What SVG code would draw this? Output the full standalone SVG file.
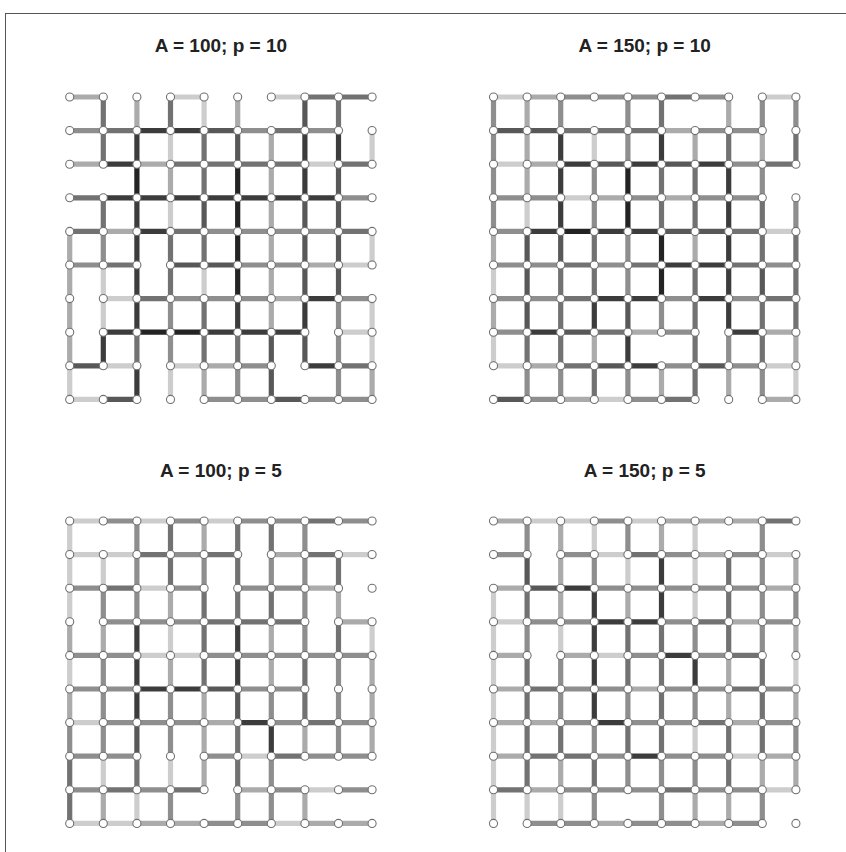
<svg xmlns="http://www.w3.org/2000/svg" width="846" height="852" viewBox="0 0 846 852">
<style>
.e path{fill:none;stroke-width:.155;stroke-linecap:butt}
.l1{stroke:#cdcdcd}.l2{stroke:#ababab}.l3{stroke:#8e8e8e}.l4{stroke:#727272}.l5{stroke:#585858}.l6{stroke:#3c3c3c}.l7{stroke:#232323}
.n circle{fill:#fff;stroke:#707070;stroke-width:.032}
.t{font-family:"Liberation Sans",Arial,sans-serif;font-size:19px;font-weight:bold;fill:#222;text-anchor:middle}
</style>
<rect x="0" y="0" width="846" height="852" fill="#fff"/>
<rect x="5.5" y="13.5" width="850" height="850" fill="none" stroke="#555" stroke-width="1"/>
<text class="t" x="220.9" y="52">A = 100; p = 10</text>
<text class="t" x="644.7" y="52">A = 150; p = 10</text>
<text class="t" x="220.9" y="476.5">A = 100; p = 5</text>
<text class="t" x="644.7" y="476.5">A = 150; p = 5</text>

<g id="panel1" transform="translate(69.7 97) scale(33.6)">
<g id="panel1-connectors" class="e">
<path class="l1" d="M3 0h1M6 0h1M7 2h1M8 5h1M1 6h1M8 7h1M1 8h1M3 8h1M0 9h1M4 0v1M3 1v1M9 1v1M3 3v1M9 4v1M1 5v1M4 5v1M1 6v1M9 6v1M9 7v1M0 8v1M3 8v1"/>
<path class="l2" d="M0 0h1M0 2h1M2 2h1M1 4h1M7 5h1M6 6h1M4 8h1M2 0v1M5 0v1M6 1v1M3 2v1M6 2v1M6 3v1M0 4v1M6 4v1M0 5v1M6 5v1M0 6v1M6 6v1M0 7v1M4 8v1M9 8v1"/>
<path class="l3" d="M0 1h1M5 1h1M7 1h1M8 3h1M4 4h4M0 5h1M5 5h2M3 6h3M8 6h1M5 8h1M4 9h2M7 9h2M1 4v1M3 6v1M8 6v1M3 7v1M8 7v1M5 8v1M8 8v1"/>
<path class="l4" d="M7 0h2M1 1h1M6 1h1M3 2h4M8 2h1M0 3h1M0 4h1M3 4h1M8 4h1M1 5h1M2 6h1M8 8h1M1 0v1M3 0v1M8 0v1M1 1v1M4 1v1M4 2v1M1 3v1M3 4v1M4 4v1M3 5v1M4 6v1M2 7v1M4 7v1M5 7v1"/>
<path class="l5" d="M4 1h1M3 5h2M0 8h1M1 9h1M6 9h1M7 0v1M5 1v1M8 2v1M4 3v1M7 3v1M8 3v1M7 4v1M8 4v1M7 5v1M8 5v1M6 7v1M7 7v1M6 8v1"/>
<path class="l6" d="M2 1h2M1 2h1M1 3h7M2 4h1M7 6h1M1 7h1M4 7h3M7 8h1M2 1v1M7 1v1M8 1v1M7 2v1M2 3v1M2 4v1M2 5v1M2 6v1M5 6v1M7 6v1M1 7v1M2 8v1"/>
<path class="l7" d="M2 7h2M2 2v1M5 2v4"/>
</g>
<g id="panel1-nodes" class="n">
<circle id="a00" cx="0" cy="0" r=".12"/><circle id="a01" cx="1" cy="0" r=".12"/><circle id="a02" cx="2" cy="0" r=".12"/><circle id="a03" cx="3" cy="0" r=".12"/><circle id="a04" cx="4" cy="0" r=".12"/><circle id="a05" cx="5" cy="0" r=".12"/><circle id="a06" cx="6" cy="0" r=".12"/><circle id="a07" cx="7" cy="0" r=".12"/><circle id="a08" cx="8" cy="0" r=".12"/><circle id="a09" cx="9" cy="0" r=".12"/>
<circle id="a10" cx="0" cy="1" r=".12"/><circle id="a11" cx="1" cy="1" r=".12"/><circle id="a12" cx="2" cy="1" r=".12"/><circle id="a13" cx="3" cy="1" r=".12"/><circle id="a14" cx="4" cy="1" r=".12"/><circle id="a15" cx="5" cy="1" r=".12"/><circle id="a16" cx="6" cy="1" r=".12"/><circle id="a17" cx="7" cy="1" r=".12"/><circle id="a18" cx="8" cy="1" r=".12"/><circle id="a19" cx="9" cy="1" r=".12"/>
<circle id="a20" cx="0" cy="2" r=".12"/><circle id="a21" cx="1" cy="2" r=".12"/><circle id="a22" cx="2" cy="2" r=".12"/><circle id="a23" cx="3" cy="2" r=".12"/><circle id="a24" cx="4" cy="2" r=".12"/><circle id="a25" cx="5" cy="2" r=".12"/><circle id="a26" cx="6" cy="2" r=".12"/><circle id="a27" cx="7" cy="2" r=".12"/><circle id="a28" cx="8" cy="2" r=".12"/><circle id="a29" cx="9" cy="2" r=".12"/>
<circle id="a30" cx="0" cy="3" r=".12"/><circle id="a31" cx="1" cy="3" r=".12"/><circle id="a32" cx="2" cy="3" r=".12"/><circle id="a33" cx="3" cy="3" r=".12"/><circle id="a34" cx="4" cy="3" r=".12"/><circle id="a35" cx="5" cy="3" r=".12"/><circle id="a36" cx="6" cy="3" r=".12"/><circle id="a37" cx="7" cy="3" r=".12"/><circle id="a38" cx="8" cy="3" r=".12"/><circle id="a39" cx="9" cy="3" r=".12"/>
<circle id="a40" cx="0" cy="4" r=".12"/><circle id="a41" cx="1" cy="4" r=".12"/><circle id="a42" cx="2" cy="4" r=".12"/><circle id="a43" cx="3" cy="4" r=".12"/><circle id="a44" cx="4" cy="4" r=".12"/><circle id="a45" cx="5" cy="4" r=".12"/><circle id="a46" cx="6" cy="4" r=".12"/><circle id="a47" cx="7" cy="4" r=".12"/><circle id="a48" cx="8" cy="4" r=".12"/><circle id="a49" cx="9" cy="4" r=".12"/>
<circle id="a50" cx="0" cy="5" r=".12"/><circle id="a51" cx="1" cy="5" r=".12"/><circle id="a52" cx="2" cy="5" r=".12"/><circle id="a53" cx="3" cy="5" r=".12"/><circle id="a54" cx="4" cy="5" r=".12"/><circle id="a55" cx="5" cy="5" r=".12"/><circle id="a56" cx="6" cy="5" r=".12"/><circle id="a57" cx="7" cy="5" r=".12"/><circle id="a58" cx="8" cy="5" r=".12"/><circle id="a59" cx="9" cy="5" r=".12"/>
<circle id="a60" cx="0" cy="6" r=".12"/><circle id="a61" cx="1" cy="6" r=".12"/><circle id="a62" cx="2" cy="6" r=".12"/><circle id="a63" cx="3" cy="6" r=".12"/><circle id="a64" cx="4" cy="6" r=".12"/><circle id="a65" cx="5" cy="6" r=".12"/><circle id="a66" cx="6" cy="6" r=".12"/><circle id="a67" cx="7" cy="6" r=".12"/><circle id="a68" cx="8" cy="6" r=".12"/><circle id="a69" cx="9" cy="6" r=".12"/>
<circle id="a70" cx="0" cy="7" r=".12"/><circle id="a71" cx="1" cy="7" r=".12"/><circle id="a72" cx="2" cy="7" r=".12"/><circle id="a73" cx="3" cy="7" r=".12"/><circle id="a74" cx="4" cy="7" r=".12"/><circle id="a75" cx="5" cy="7" r=".12"/><circle id="a76" cx="6" cy="7" r=".12"/><circle id="a77" cx="7" cy="7" r=".12"/><circle id="a78" cx="8" cy="7" r=".12"/><circle id="a79" cx="9" cy="7" r=".12"/>
<circle id="a80" cx="0" cy="8" r=".12"/><circle id="a81" cx="1" cy="8" r=".12"/><circle id="a82" cx="2" cy="8" r=".12"/><circle id="a83" cx="3" cy="8" r=".12"/><circle id="a84" cx="4" cy="8" r=".12"/><circle id="a85" cx="5" cy="8" r=".12"/><circle id="a86" cx="6" cy="8" r=".12"/><circle id="a87" cx="7" cy="8" r=".12"/><circle id="a88" cx="8" cy="8" r=".12"/><circle id="a89" cx="9" cy="8" r=".12"/>
<circle id="a90" cx="0" cy="9" r=".12"/><circle id="a91" cx="1" cy="9" r=".12"/><circle id="a92" cx="2" cy="9" r=".12"/><circle id="a93" cx="3" cy="9" r=".12"/><circle id="a94" cx="4" cy="9" r=".12"/><circle id="a95" cx="5" cy="9" r=".12"/><circle id="a96" cx="6" cy="9" r=".12"/><circle id="a97" cx="7" cy="9" r=".12"/><circle id="a98" cx="8" cy="9" r=".12"/><circle id="a99" cx="9" cy="9" r=".12"/>
</g>
</g>

<g id="panel2" transform="translate(493.5 97) scale(33.6)">
<g id="panel2-connectors" class="e">
<path class="l1" d="M0 0h1M8 0h1M0 2h1M2 3h1M8 4h1M0 8h1M8 8h1M3 9h1M3 1v1M1 3v1M0 5v1M0 7v1M9 8v1"/>
<path class="l2" d="M1 0h1M5 1h1M1 2h1M3 3h1M5 3h1M4 7h1M8 7h1M1 8h1M2 9h1M8 9h1M1 0v1M7 0v1M1 1v1M6 1v1M8 1v1M1 2v1M0 4v1M6 4v1M0 6v1M3 7v1M9 7v1M5 8v1M7 8v1"/>
<path class="l3" d="M2 0h3M6 0h1M6 1h2M7 2h1M0 3h2M4 3h1M6 3h2M0 4h1M0 5h2M3 5h1M8 5h1M0 6h2M5 6h1M7 6h1M0 7h1M5 7h1M5 8h1M7 8h1M1 9h1M4 9h1M0 0v4M2 0v1M4 0v1M8 0v1M9 0v1M4 1v1M3 2v2M8 2v1M9 3v1M4 4v2M5 6v1M7 7v1M1 8v1M2 8v1M4 8v1M8 8v1"/>
<path class="l4" d="M5 0h1M2 1h3M8 2h1M7 4h1M2 5h1M4 5h1M7 5h1M2 6h1M8 6h1M3 7h1M2 8h1M5 9h1M5 0v1M7 1v1M9 1v1M5 2v2M6 2v2M8 3v2M3 4v2M9 4v3M2 5v3M6 5v4M8 6v2M1 7v1M3 8v1"/>
<path class="l5" d="M0 1h2M3 2h1M5 2h1M5 4h2M2 7h1M3 8h1M6 8h1M0 9h1M1 4v3M2 4v1M8 5v1M4 6v1"/>
<path class="l6" d="M2 2h1M4 2h1M6 2h1M1 4h1M3 4h2M5 5h2M3 6h2M6 6h1M1 7h1M7 7h1M4 8h1M2 1v3M5 1v1M7 2v5M3 6v1M4 7v1"/>
<path class="l7" d="M2 4h1M4 2v2M5 4v2"/>
</g>
<g id="panel2-nodes" class="n">
<circle id="b00" cx="0" cy="0" r=".12"/><circle id="b01" cx="1" cy="0" r=".12"/><circle id="b02" cx="2" cy="0" r=".12"/><circle id="b03" cx="3" cy="0" r=".12"/><circle id="b04" cx="4" cy="0" r=".12"/><circle id="b05" cx="5" cy="0" r=".12"/><circle id="b06" cx="6" cy="0" r=".12"/><circle id="b07" cx="7" cy="0" r=".12"/><circle id="b08" cx="8" cy="0" r=".12"/><circle id="b09" cx="9" cy="0" r=".12"/>
<circle id="b10" cx="0" cy="1" r=".12"/><circle id="b11" cx="1" cy="1" r=".12"/><circle id="b12" cx="2" cy="1" r=".12"/><circle id="b13" cx="3" cy="1" r=".12"/><circle id="b14" cx="4" cy="1" r=".12"/><circle id="b15" cx="5" cy="1" r=".12"/><circle id="b16" cx="6" cy="1" r=".12"/><circle id="b17" cx="7" cy="1" r=".12"/><circle id="b18" cx="8" cy="1" r=".12"/><circle id="b19" cx="9" cy="1" r=".12"/>
<circle id="b20" cx="0" cy="2" r=".12"/><circle id="b21" cx="1" cy="2" r=".12"/><circle id="b22" cx="2" cy="2" r=".12"/><circle id="b23" cx="3" cy="2" r=".12"/><circle id="b24" cx="4" cy="2" r=".12"/><circle id="b25" cx="5" cy="2" r=".12"/><circle id="b26" cx="6" cy="2" r=".12"/><circle id="b27" cx="7" cy="2" r=".12"/><circle id="b28" cx="8" cy="2" r=".12"/><circle id="b29" cx="9" cy="2" r=".12"/>
<circle id="b30" cx="0" cy="3" r=".12"/><circle id="b31" cx="1" cy="3" r=".12"/><circle id="b32" cx="2" cy="3" r=".12"/><circle id="b33" cx="3" cy="3" r=".12"/><circle id="b34" cx="4" cy="3" r=".12"/><circle id="b35" cx="5" cy="3" r=".12"/><circle id="b36" cx="6" cy="3" r=".12"/><circle id="b37" cx="7" cy="3" r=".12"/><circle id="b38" cx="8" cy="3" r=".12"/><circle id="b39" cx="9" cy="3" r=".12"/>
<circle id="b40" cx="0" cy="4" r=".12"/><circle id="b41" cx="1" cy="4" r=".12"/><circle id="b42" cx="2" cy="4" r=".12"/><circle id="b43" cx="3" cy="4" r=".12"/><circle id="b44" cx="4" cy="4" r=".12"/><circle id="b45" cx="5" cy="4" r=".12"/><circle id="b46" cx="6" cy="4" r=".12"/><circle id="b47" cx="7" cy="4" r=".12"/><circle id="b48" cx="8" cy="4" r=".12"/><circle id="b49" cx="9" cy="4" r=".12"/>
<circle id="b50" cx="0" cy="5" r=".12"/><circle id="b51" cx="1" cy="5" r=".12"/><circle id="b52" cx="2" cy="5" r=".12"/><circle id="b53" cx="3" cy="5" r=".12"/><circle id="b54" cx="4" cy="5" r=".12"/><circle id="b55" cx="5" cy="5" r=".12"/><circle id="b56" cx="6" cy="5" r=".12"/><circle id="b57" cx="7" cy="5" r=".12"/><circle id="b58" cx="8" cy="5" r=".12"/><circle id="b59" cx="9" cy="5" r=".12"/>
<circle id="b60" cx="0" cy="6" r=".12"/><circle id="b61" cx="1" cy="6" r=".12"/><circle id="b62" cx="2" cy="6" r=".12"/><circle id="b63" cx="3" cy="6" r=".12"/><circle id="b64" cx="4" cy="6" r=".12"/><circle id="b65" cx="5" cy="6" r=".12"/><circle id="b66" cx="6" cy="6" r=".12"/><circle id="b67" cx="7" cy="6" r=".12"/><circle id="b68" cx="8" cy="6" r=".12"/><circle id="b69" cx="9" cy="6" r=".12"/>
<circle id="b70" cx="0" cy="7" r=".12"/><circle id="b71" cx="1" cy="7" r=".12"/><circle id="b72" cx="2" cy="7" r=".12"/><circle id="b73" cx="3" cy="7" r=".12"/><circle id="b74" cx="4" cy="7" r=".12"/><circle id="b75" cx="5" cy="7" r=".12"/><circle id="b76" cx="6" cy="7" r=".12"/><circle id="b77" cx="7" cy="7" r=".12"/><circle id="b78" cx="8" cy="7" r=".12"/><circle id="b79" cx="9" cy="7" r=".12"/>
<circle id="b80" cx="0" cy="8" r=".12"/><circle id="b81" cx="1" cy="8" r=".12"/><circle id="b82" cx="2" cy="8" r=".12"/><circle id="b83" cx="3" cy="8" r=".12"/><circle id="b84" cx="4" cy="8" r=".12"/><circle id="b85" cx="5" cy="8" r=".12"/><circle id="b86" cx="6" cy="8" r=".12"/><circle id="b87" cx="7" cy="8" r=".12"/><circle id="b88" cx="8" cy="8" r=".12"/><circle id="b89" cx="9" cy="8" r=".12"/>
<circle id="b90" cx="0" cy="9" r=".12"/><circle id="b91" cx="1" cy="9" r=".12"/><circle id="b92" cx="2" cy="9" r=".12"/><circle id="b93" cx="3" cy="9" r=".12"/><circle id="b94" cx="4" cy="9" r=".12"/><circle id="b95" cx="5" cy="9" r=".12"/><circle id="b96" cx="6" cy="9" r=".12"/><circle id="b97" cx="7" cy="9" r=".12"/><circle id="b98" cx="8" cy="9" r=".12"/><circle id="b99" cx="9" cy="9" r=".12"/>
</g>
</g>

<g id="panel3" transform="translate(69.7 521) scale(33.6)">
<g id="panel3-connectors" class="e">
<path class="l1" d="M0 0h1M2 0h1M4 0h1M0 1h2M8 1h1M2 2h1M2 4h2M0 6h1M5 7h1M7 8h1M0 9h2M6 9h1M0 0v3M1 1v1M3 3v1M9 3v1M0 4v1M1 7v1M3 7v1M2 8v1"/>
<path class="l2" d="M6 1h1M7 2h1M8 3h1M4 6h1M5 8h1M2 9h2M7 9h2M4 0v1M3 2v1M8 2v1M0 3v1M1 3v1M6 3v2M3 4v1M9 4v3M0 5v1M4 5v3M7 6v1M1 8v1M7 8v1"/>
<path class="l3" d="M1 0h1M3 0h1M5 0h2M8 0h1M3 1h1M0 2h1M3 2h1M5 2h2M1 3h3M0 4h2M4 4h5M0 5h2M5 5h2M1 6h3M6 6h1M8 6h1M0 7h2M4 7h1M7 7h2M0 8h1M2 8h1M6 8h1M8 8h1M4 9h2M2 0v3M7 0v4M4 1v1M6 1v1M1 2v1M1 4v3M8 4v3M3 5v2M6 5v1M0 6v1M6 7v2M3 8v1M5 8v1"/>
<path class="l4" d="M7 0h1M2 1h1M4 1h1M7 1h1M1 2h1M4 3h3M7 6h1M6 7h1M1 8h1M3 8h1M3 0v2M5 0v3M6 0v1M8 1v1M4 2v3M6 2v1M8 3v1M7 4v2M5 6v2M0 7v2M2 7v1"/>
<path class="l5" d="M4 5h1M5 5v1M2 6v1"/>
<path class="l6" d="M2 5h2M5 6h1M2 3v3M5 3v2M6 6v1"/>
</g>
<g id="panel3-nodes" class="n">
<circle id="c00" cx="0" cy="0" r=".12"/><circle id="c01" cx="1" cy="0" r=".12"/><circle id="c02" cx="2" cy="0" r=".12"/><circle id="c03" cx="3" cy="0" r=".12"/><circle id="c04" cx="4" cy="0" r=".12"/><circle id="c05" cx="5" cy="0" r=".12"/><circle id="c06" cx="6" cy="0" r=".12"/><circle id="c07" cx="7" cy="0" r=".12"/><circle id="c08" cx="8" cy="0" r=".12"/><circle id="c09" cx="9" cy="0" r=".12"/>
<circle id="c10" cx="0" cy="1" r=".12"/><circle id="c11" cx="1" cy="1" r=".12"/><circle id="c12" cx="2" cy="1" r=".12"/><circle id="c13" cx="3" cy="1" r=".12"/><circle id="c14" cx="4" cy="1" r=".12"/><circle id="c15" cx="5" cy="1" r=".12"/><circle id="c16" cx="6" cy="1" r=".12"/><circle id="c17" cx="7" cy="1" r=".12"/><circle id="c18" cx="8" cy="1" r=".12"/><circle id="c19" cx="9" cy="1" r=".12"/>
<circle id="c20" cx="0" cy="2" r=".12"/><circle id="c21" cx="1" cy="2" r=".12"/><circle id="c22" cx="2" cy="2" r=".12"/><circle id="c23" cx="3" cy="2" r=".12"/><circle id="c24" cx="4" cy="2" r=".12"/><circle id="c25" cx="5" cy="2" r=".12"/><circle id="c26" cx="6" cy="2" r=".12"/><circle id="c27" cx="7" cy="2" r=".12"/><circle id="c28" cx="8" cy="2" r=".12"/><circle id="c29" cx="9" cy="2" r=".12"/>
<circle id="c30" cx="0" cy="3" r=".12"/><circle id="c31" cx="1" cy="3" r=".12"/><circle id="c32" cx="2" cy="3" r=".12"/><circle id="c33" cx="3" cy="3" r=".12"/><circle id="c34" cx="4" cy="3" r=".12"/><circle id="c35" cx="5" cy="3" r=".12"/><circle id="c36" cx="6" cy="3" r=".12"/><circle id="c37" cx="7" cy="3" r=".12"/><circle id="c38" cx="8" cy="3" r=".12"/><circle id="c39" cx="9" cy="3" r=".12"/>
<circle id="c40" cx="0" cy="4" r=".12"/><circle id="c41" cx="1" cy="4" r=".12"/><circle id="c42" cx="2" cy="4" r=".12"/><circle id="c43" cx="3" cy="4" r=".12"/><circle id="c44" cx="4" cy="4" r=".12"/><circle id="c45" cx="5" cy="4" r=".12"/><circle id="c46" cx="6" cy="4" r=".12"/><circle id="c47" cx="7" cy="4" r=".12"/><circle id="c48" cx="8" cy="4" r=".12"/><circle id="c49" cx="9" cy="4" r=".12"/>
<circle id="c50" cx="0" cy="5" r=".12"/><circle id="c51" cx="1" cy="5" r=".12"/><circle id="c52" cx="2" cy="5" r=".12"/><circle id="c53" cx="3" cy="5" r=".12"/><circle id="c54" cx="4" cy="5" r=".12"/><circle id="c55" cx="5" cy="5" r=".12"/><circle id="c56" cx="6" cy="5" r=".12"/><circle id="c57" cx="7" cy="5" r=".12"/><circle id="c58" cx="8" cy="5" r=".12"/><circle id="c59" cx="9" cy="5" r=".12"/>
<circle id="c60" cx="0" cy="6" r=".12"/><circle id="c61" cx="1" cy="6" r=".12"/><circle id="c62" cx="2" cy="6" r=".12"/><circle id="c63" cx="3" cy="6" r=".12"/><circle id="c64" cx="4" cy="6" r=".12"/><circle id="c65" cx="5" cy="6" r=".12"/><circle id="c66" cx="6" cy="6" r=".12"/><circle id="c67" cx="7" cy="6" r=".12"/><circle id="c68" cx="8" cy="6" r=".12"/><circle id="c69" cx="9" cy="6" r=".12"/>
<circle id="c70" cx="0" cy="7" r=".12"/><circle id="c71" cx="1" cy="7" r=".12"/><circle id="c72" cx="2" cy="7" r=".12"/><circle id="c73" cx="3" cy="7" r=".12"/><circle id="c74" cx="4" cy="7" r=".12"/><circle id="c75" cx="5" cy="7" r=".12"/><circle id="c76" cx="6" cy="7" r=".12"/><circle id="c77" cx="7" cy="7" r=".12"/><circle id="c78" cx="8" cy="7" r=".12"/><circle id="c79" cx="9" cy="7" r=".12"/>
<circle id="c80" cx="0" cy="8" r=".12"/><circle id="c81" cx="1" cy="8" r=".12"/><circle id="c82" cx="2" cy="8" r=".12"/><circle id="c83" cx="3" cy="8" r=".12"/><circle id="c84" cx="4" cy="8" r=".12"/><circle id="c85" cx="5" cy="8" r=".12"/><circle id="c86" cx="6" cy="8" r=".12"/><circle id="c87" cx="7" cy="8" r=".12"/><circle id="c88" cx="8" cy="8" r=".12"/><circle id="c89" cx="9" cy="8" r=".12"/>
<circle id="c90" cx="0" cy="9" r=".12"/><circle id="c91" cx="1" cy="9" r=".12"/><circle id="c92" cx="2" cy="9" r=".12"/><circle id="c93" cx="3" cy="9" r=".12"/><circle id="c94" cx="4" cy="9" r=".12"/><circle id="c95" cx="5" cy="9" r=".12"/><circle id="c96" cx="6" cy="9" r=".12"/><circle id="c97" cx="7" cy="9" r=".12"/><circle id="c98" cx="8" cy="9" r=".12"/><circle id="c99" cx="9" cy="9" r=".12"/>
</g>
</g>

<g id="panel4" transform="translate(493.5 521) scale(33.6)">
<g id="panel4-connectors" class="e">
<path class="l1" d="M1 0h2M4 0h1M3 1h1M8 1h1M0 3h1M3 4h1M7 7h1M8 8h1M3 0v1M6 0v3M4 1v1M0 2v7M2 3v1M9 4v1M6 6v1M1 8v1M2 8v1"/>
<path class="l2" d="M0 0h1M5 0h3M6 1h1M0 2h1M8 2h1M7 3h1M0 4h1M2 4h1M0 5h1M4 5h1M0 6h2M7 6h1M0 7h1M8 7h1M1 8h1M3 9h1M6 9h1M2 0v3M5 0v1M9 1v1M4 2v1M9 3v1M7 4v2M9 5v1M2 7v1M8 7v1M9 7v1M6 8v1M7 8v1"/>
<path class="l3" d="M3 0h1M0 1h1M2 1h1M5 1h1M7 1h1M3 2h5M1 3h2M5 3h1M8 3h1M4 4h1M6 4h1M2 5h2M5 5h2M8 5h1M2 6h1M4 6h2M8 6h1M3 7h1M5 7h2M2 8h3M6 8h2M1 9h2M4 9h2M7 9h1M1 0v1M4 0v1M8 0v4M3 1v1M9 2v1M1 3v1M6 3v1M2 4v2M4 5v1M6 5v1M3 6v1M9 6v1M4 7v1M5 7v1M6 7v1M3 8v1M5 8v1M8 8v1"/>
<path class="l4" d="M8 0h1M4 1h1M6 3h1M7 4h1M1 5h1M7 5h1M6 6h1M1 7h2M0 8h1M5 8h1M7 1v3M1 2v1M4 3v2M5 3v4M1 4v4M8 4v3M2 6v1M4 6v1M7 6v2M3 7v1"/>
<path class="l5" d="M1 2h1M1 1v1"/>
<path class="l6" d="M2 2h1M3 3h2M5 4h1M3 6h1M4 7h1M5 1v2M3 2v4M6 4v1"/>
</g>
<g id="panel4-nodes" class="n">
<circle id="d00" cx="0" cy="0" r=".12"/><circle id="d01" cx="1" cy="0" r=".12"/><circle id="d02" cx="2" cy="0" r=".12"/><circle id="d03" cx="3" cy="0" r=".12"/><circle id="d04" cx="4" cy="0" r=".12"/><circle id="d05" cx="5" cy="0" r=".12"/><circle id="d06" cx="6" cy="0" r=".12"/><circle id="d07" cx="7" cy="0" r=".12"/><circle id="d08" cx="8" cy="0" r=".12"/><circle id="d09" cx="9" cy="0" r=".12"/>
<circle id="d10" cx="0" cy="1" r=".12"/><circle id="d11" cx="1" cy="1" r=".12"/><circle id="d12" cx="2" cy="1" r=".12"/><circle id="d13" cx="3" cy="1" r=".12"/><circle id="d14" cx="4" cy="1" r=".12"/><circle id="d15" cx="5" cy="1" r=".12"/><circle id="d16" cx="6" cy="1" r=".12"/><circle id="d17" cx="7" cy="1" r=".12"/><circle id="d18" cx="8" cy="1" r=".12"/><circle id="d19" cx="9" cy="1" r=".12"/>
<circle id="d20" cx="0" cy="2" r=".12"/><circle id="d21" cx="1" cy="2" r=".12"/><circle id="d22" cx="2" cy="2" r=".12"/><circle id="d23" cx="3" cy="2" r=".12"/><circle id="d24" cx="4" cy="2" r=".12"/><circle id="d25" cx="5" cy="2" r=".12"/><circle id="d26" cx="6" cy="2" r=".12"/><circle id="d27" cx="7" cy="2" r=".12"/><circle id="d28" cx="8" cy="2" r=".12"/><circle id="d29" cx="9" cy="2" r=".12"/>
<circle id="d30" cx="0" cy="3" r=".12"/><circle id="d31" cx="1" cy="3" r=".12"/><circle id="d32" cx="2" cy="3" r=".12"/><circle id="d33" cx="3" cy="3" r=".12"/><circle id="d34" cx="4" cy="3" r=".12"/><circle id="d35" cx="5" cy="3" r=".12"/><circle id="d36" cx="6" cy="3" r=".12"/><circle id="d37" cx="7" cy="3" r=".12"/><circle id="d38" cx="8" cy="3" r=".12"/><circle id="d39" cx="9" cy="3" r=".12"/>
<circle id="d40" cx="0" cy="4" r=".12"/><circle id="d41" cx="1" cy="4" r=".12"/><circle id="d42" cx="2" cy="4" r=".12"/><circle id="d43" cx="3" cy="4" r=".12"/><circle id="d44" cx="4" cy="4" r=".12"/><circle id="d45" cx="5" cy="4" r=".12"/><circle id="d46" cx="6" cy="4" r=".12"/><circle id="d47" cx="7" cy="4" r=".12"/><circle id="d48" cx="8" cy="4" r=".12"/><circle id="d49" cx="9" cy="4" r=".12"/>
<circle id="d50" cx="0" cy="5" r=".12"/><circle id="d51" cx="1" cy="5" r=".12"/><circle id="d52" cx="2" cy="5" r=".12"/><circle id="d53" cx="3" cy="5" r=".12"/><circle id="d54" cx="4" cy="5" r=".12"/><circle id="d55" cx="5" cy="5" r=".12"/><circle id="d56" cx="6" cy="5" r=".12"/><circle id="d57" cx="7" cy="5" r=".12"/><circle id="d58" cx="8" cy="5" r=".12"/><circle id="d59" cx="9" cy="5" r=".12"/>
<circle id="d60" cx="0" cy="6" r=".12"/><circle id="d61" cx="1" cy="6" r=".12"/><circle id="d62" cx="2" cy="6" r=".12"/><circle id="d63" cx="3" cy="6" r=".12"/><circle id="d64" cx="4" cy="6" r=".12"/><circle id="d65" cx="5" cy="6" r=".12"/><circle id="d66" cx="6" cy="6" r=".12"/><circle id="d67" cx="7" cy="6" r=".12"/><circle id="d68" cx="8" cy="6" r=".12"/><circle id="d69" cx="9" cy="6" r=".12"/>
<circle id="d70" cx="0" cy="7" r=".12"/><circle id="d71" cx="1" cy="7" r=".12"/><circle id="d72" cx="2" cy="7" r=".12"/><circle id="d73" cx="3" cy="7" r=".12"/><circle id="d74" cx="4" cy="7" r=".12"/><circle id="d75" cx="5" cy="7" r=".12"/><circle id="d76" cx="6" cy="7" r=".12"/><circle id="d77" cx="7" cy="7" r=".12"/><circle id="d78" cx="8" cy="7" r=".12"/><circle id="d79" cx="9" cy="7" r=".12"/>
<circle id="d80" cx="0" cy="8" r=".12"/><circle id="d81" cx="1" cy="8" r=".12"/><circle id="d82" cx="2" cy="8" r=".12"/><circle id="d83" cx="3" cy="8" r=".12"/><circle id="d84" cx="4" cy="8" r=".12"/><circle id="d85" cx="5" cy="8" r=".12"/><circle id="d86" cx="6" cy="8" r=".12"/><circle id="d87" cx="7" cy="8" r=".12"/><circle id="d88" cx="8" cy="8" r=".12"/><circle id="d89" cx="9" cy="8" r=".12"/>
<circle id="d90" cx="0" cy="9" r=".12"/><circle id="d91" cx="1" cy="9" r=".12"/><circle id="d92" cx="2" cy="9" r=".12"/><circle id="d93" cx="3" cy="9" r=".12"/><circle id="d94" cx="4" cy="9" r=".12"/><circle id="d95" cx="5" cy="9" r=".12"/><circle id="d96" cx="6" cy="9" r=".12"/><circle id="d97" cx="7" cy="9" r=".12"/><circle id="d98" cx="8" cy="9" r=".12"/><circle id="d99" cx="9" cy="9" r=".12"/>
</g>
</g>
</svg>
